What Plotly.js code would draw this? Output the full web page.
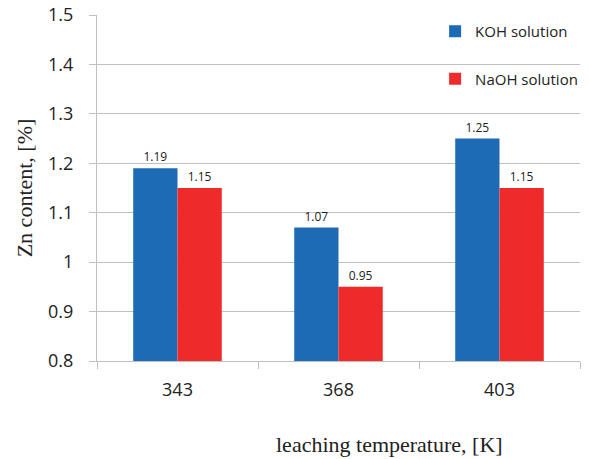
<!DOCTYPE html>
<html>
<head>
<meta charset="utf-8">
<script src="https://cdn.plot.ly/plotly-3.0.1.min.js"></script>
<style>html,body{margin:0;padding:0;background:#fff;}#chart{width:589px;height:459px;}</style>
</head>
<body>
<div id="chart"></div>
<script>
const categories = ["343", "368", "403"];
const kohValues = [1.19, 1.07, 1.25];
const naohValues = [1.15, 0.95, 1.15];
const seriesNames = ["KOH solution", "NaOH solution"];
const yTitle = "Zn content, [%]";
const xTitle = "leaching temperature, [K]";

const labelFont = {family: "Open Sans, sans-serif", size: 12, color: "#222"};
const traces = [
  {type: "bar", x: categories, y: kohValues, name: seriesNames[0], legendgroup: "a",
   marker: {color: "#1e6bb5"}, text: kohValues.map(v => v.toFixed(2)), textposition: "outside",
   textfont: labelFont, cliponaxis: false, hoverinfo: "none"},
  {type: "bar", x: categories, y: naohValues, name: seriesNames[1], legendgroup: "b",
   marker: {color: "#ee2a2a"}, text: naohValues.map(v => v.toFixed(2)), textposition: "outside",
   textfont: labelFont, cliponaxis: false, hoverinfo: "none"}
];

const layout = {
  width: 589, height: 459,
  margin: {l: 97, r: 6, t: 15, b: 98},
  paper_bgcolor: "#fff", plot_bgcolor: "#fff",
  barmode: "group", bargap: 0.45, bargroupgap: 0,
  font: {family: "Open Sans, sans-serif", color: "#333"},
  xaxis: {
    type: "category", showgrid: false, showline: true, linecolor: "#bfbfbf", linewidth: 1,
    ticks: "outside", tickson: "boundaries", ticklen: 7, tickcolor: "#bfbfbf",
    tickfont: {family: "Open Sans, sans-serif", size: 18, color: "#222"},
    ticklabelstandoff: 12
  },
  yaxis: {
    range: [0.8, 1.5], dtick: 0.1, tick0: 0.8, showgrid: true, gridcolor: "#bfbfbf",
    showline: true, linecolor: "#bfbfbf", ticks: "outside", ticklen: 7, tickcolor: "#bfbfbf",
    tickfont: {family: "Open Sans, sans-serif", size: 18, color: "#222"},
    zeroline: false, ticklabelstandoff: 12,
    title: {text: yTitle, font: {family: "Liberation Serif, serif", size: 22, color: "#222"}, standoff: 9}
  },
  showlegend: true,
  legend: {
    x: 0.70, y: 1.0, xanchor: "left", yanchor: "top", bgcolor: "rgba(0,0,0,0)",
    traceorder: "grouped", tracegroupgap: 25,
    font: {family: "Open Sans, sans-serif", size: 15, color: "#222"}
  },
  annotations: [
    {text: xTitle, xref: "paper", yref: "paper", x: 0.605, y: 0, yshift: -83, yanchor: "middle",
     xanchor: "center", showarrow: false, font: {family: "Liberation Serif, serif", size: 22, color: "#222"}}
  ]
};

Plotly.newPlot("chart", traces, layout, {staticPlot: true, displayModeBar: false});
</script>
</body>
</html>
